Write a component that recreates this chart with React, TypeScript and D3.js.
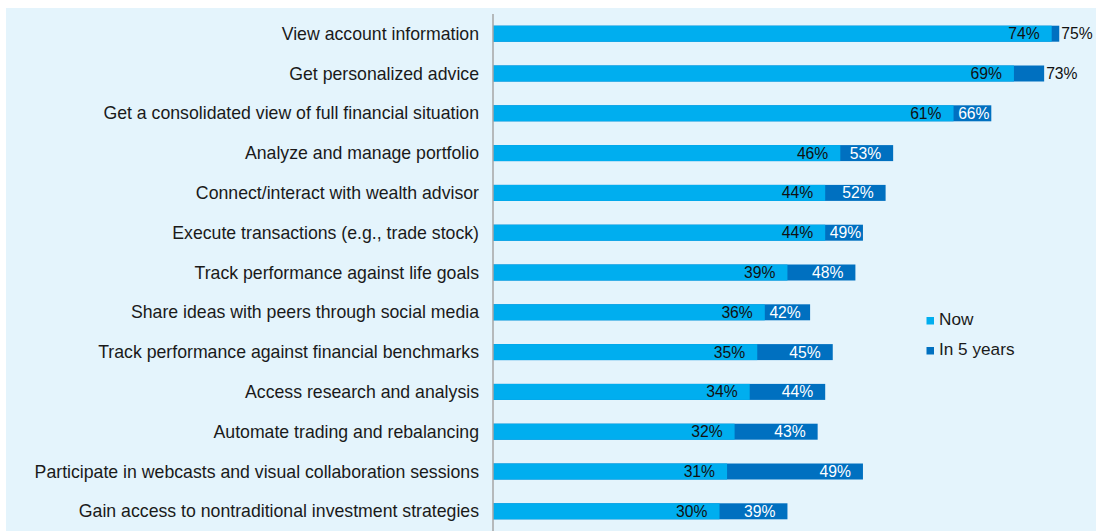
import React from "react";
import * as d3 from "d3";

const categories = [
  "View account information",
  "Get personalized advice",
  "Get a consolidated view of full financial situation",
  "Analyze and manage portfolio",
  "Connect/interact with wealth advisor",
  "Execute transactions (e.g., trade stock)",
  "Track performance against life goals",
  "Share ideas with peers through social media",
  "Track performance against financial benchmarks",
  "Access research and analysis",
  "Automate trading and rebalancing",
  "Participate in webcasts and visual collaboration sessions",
  "Gain access to nontraditional investment strategies",
];
const nowValues = [74, 69, 61, 46, 44, 44, 39, 36, 35, 34, 32, 31, 30];
const futureValues = [75, 73, 66, 53, 52, 49, 48, 42, 45, 44, 43, 49, 39];
const seriesNames = ["Now", "In 5 years"];

const W = 1096;
const H = 531;
const NOW_COLOR = "#00AEEF";
const FUT_COLOR = "#0070C0";
const BG = "#E4F4FC";
const FONT = "'Liberation Sans', Arial, sans-serif";

export default function App() {
  const x = d3.scaleLinear().domain([0, 100]).range([493, 1248]);
  const y = d3
    .scaleBand<string>()
    .domain(categories)
    .range([13.8, 13.8 + 39.8 * categories.length])
    .paddingInner(0.598)
    .paddingOuter(0.299);
  const bh = y.bandwidth();
  const labelW = 32;

  return (
    <svg
      width={W}
      height={H}
      style={{ position: "absolute", left: 0, top: 0 }}
      fontFamily={FONT}
    >
      <rect x={0} y={0} width={W} height={H} fill="#ffffff" />
      <rect x={6} y={8} width={W - 6} height={H - 8} fill={BG} />
      {categories.map((c, i) => {
        const y0 = y(c)!;
        const cy = y0 + bh / 2;
        const x0 = x(0);
        const xn = x(nowValues[i]);
        const xf = x(futureValues[i]);
        const segW = xf - xn;
        const outside = segW < 34;
        const futEnd = Math.max(xf - 12, Math.min(xn + 4 + labelW, xf));
        return (
          <g key={c}>
            <text
              x={479}
              y={cy}
              textAnchor="end"
              dominantBaseline="central"
              fontSize={17.7}
              fill="#1a1a1a"
            >
              {c}
            </text>
            <rect x={x0} y={y0} width={xf - x0} height={bh} fill={FUT_COLOR} />
            <rect x={x0} y={y0} width={xn - x0} height={bh} fill={NOW_COLOR} />
            <text
              x={xn - 12}
              y={cy}
              textAnchor="end"
              dominantBaseline="central"
              fontSize={15.7}
              fill="#111"
            >
              {nowValues[i]}%
            </text>
            {outside ? (
              <text
                x={xf + 2}
                y={cy}
                textAnchor="start"
                dominantBaseline="central"
                fontSize={15.7}
                fill="#111"
              >
                {futureValues[i]}%
              </text>
            ) : (
              <text
                x={futEnd}
                y={cy}
                textAnchor="end"
                dominantBaseline="central"
                fontSize={15.7}
                fill="#ffffff"
              >
                {futureValues[i]}%
              </text>
            )}
          </g>
        );
      })}
      <line x1={493} x2={493} y1={14} y2={H} stroke="#A6A6A6" strokeWidth={1.5} />
      {seriesNames.map((s, i) => (
        <g key={s}>
          <rect
            x={926.5}
            y={317 + i * 30}
            width={7.5}
            height={7.5}
            fill={i === 0 ? NOW_COLOR : FUT_COLOR}
          />
          <text
            x={939}
            y={319 + i * 30}
            dominantBaseline="central"
            fontSize={17.2}
            fill="#1a1a1a"
          >
            {s}
          </text>
        </g>
      ))}
    </svg>
  );
}
